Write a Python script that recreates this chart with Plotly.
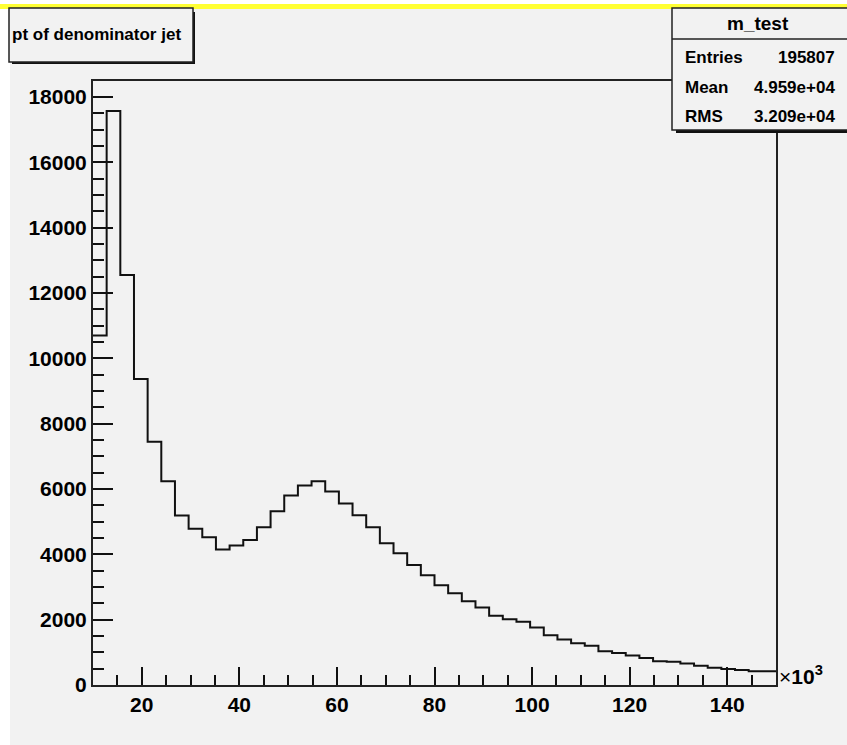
import numpy as np
import plotly.graph_objects as go

# ---- data (x in units of 10^3) ----
x_lo, x_hi, n_bins = 10.0, 150.0, 50
counts = [10700, 17570, 12550, 9370, 7450, 6240, 5190, 4780, 4520, 4150,
          4270, 4440, 4830, 5320, 5800, 6110, 6235, 5920, 5560, 5195,
          4830, 4340, 4030, 3670, 3360, 3050, 2806, 2560, 2370, 2122,
          2010, 1940, 1760, 1521, 1390, 1280, 1200, 1031, 980, 900,
          830, 730, 715, 660, 590, 530, 490, 459, 418, 418]
x_ticks = [20, 40, 60, 80, 100, 120, 140]
y_ticks = [0, 2000, 4000, 6000, 8000, 10000, 12000, 14000, 16000, 18000]
title_text = "pt of denominator jet"
stats_name = "m_test"
stats_rows = [("Entries", "195807"), ("Mean", "4.959e+04"), ("RMS", "3.209e+04")]
y_max = 18490

edges = np.linspace(x_lo, x_hi, n_bins + 1)
xs = list(edges)
ys = counts + [counts[-1]]

# ---- geometry ----
WIDTH, HEIGHT = 847, 745
L, R, T, B = 93, 776, 81, 685
W, H = R - L, B - T
def px(x):
    return (x - L) / W
def py(y):
    return (B - y) / H

BG = "#f2f2f2"
FONT = "Liberation Sans, Arial"

fig = go.Figure()
fig.add_trace(go.Scatter(x=xs, y=ys, mode="lines", line=dict(color="#111", width=2, shape="hv"),
                         hoverinfo="skip", showlegend=False, cliponaxis=True))

shapes = []
shapes.append(dict(type="rect", xref="paper", yref="paper", x0=px(10), x1=px(860), y0=py(9), y1=py(760),
                   fillcolor=BG, line=dict(width=0), layer="below"))
shapes.append(dict(type="rect", xref="paper", yref="paper", x0=px(-5), x1=px(860), y0=py(4), y1=py(9),
                   fillcolor="#ffff33", line=dict(width=0), layer="below"))
shapes.append(dict(type="rect", xref="paper", yref="paper", x0=px(12), x1=px(195), y0=py(12), y1=py(64),
                   fillcolor="#111", line=dict(width=0), layer="above"))
shapes.append(dict(type="rect", xref="paper", yref="paper", x0=px(9), x1=px(193), y0=py(8), y1=py(62),
                   fillcolor=BG, line=dict(color="#222", width=1.5), layer="above"))
shapes.append(dict(type="rect", xref="paper", yref="paper", x0=px(676), x1=px(860), y0=py(12), y1=py(133),
                   fillcolor="#111", line=dict(width=0), layer="above"))
shapes.append(dict(type="rect", xref="paper", yref="paper", x0=px(672), x1=px(860), y0=py(8), y1=py(130),
                   fillcolor=BG, line=dict(color="#222", width=1.5), layer="above"))
shapes.append(dict(type="line", xref="paper", yref="paper", x0=px(672), x1=px(860), y0=py(39), y1=py(39),
                   line=dict(color="#222", width=1.5), layer="above"))

annotations = []
annotations.append(dict(text="<b>" + title_text + "</b>", xref="paper", yref="paper", x=px(96), y=py(35),
                        xanchor="center", yanchor="middle", showarrow=False,
                        font=dict(family=FONT, size=17, color="black")))
annotations.append(dict(text="<b>" + stats_name + "</b>", xref="paper", yref="paper", x=px(758), y=py(23),
                        xanchor="center", yanchor="middle", showarrow=False,
                        font=dict(family=FONT, size=19, color="black")))
row_y = [58, 87, 116]
for (k, v), yy in zip(stats_rows, row_y):
    annotations.append(dict(text="<b>" + k + "</b>", xref="paper", yref="paper", x=px(683), y=py(yy),
                            xanchor="left", yanchor="middle", showarrow=False,
                            font=dict(family=FONT, size=17, color="black")))
    annotations.append(dict(text="<b>" + v + "</b>", xref="paper", yref="paper", x=px(837), y=py(yy),
                            xanchor="right", yanchor="middle", showarrow=False,
                            font=dict(family=FONT, size=17, color="black")))
annotations.append(dict(text="×<b>10<sup>3</sup></b>", xref="paper", yref="paper", x=px(777), y=py(675),
                        xanchor="left", yanchor="middle", showarrow=False,
                        font=dict(family=FONT, size=21, color="black")))

fig.update_layout(
    width=WIDTH, height=HEIGHT,
    margin=dict(l=L, r=WIDTH - R, t=T, b=HEIGHT - B, pad=0),
    paper_bgcolor="white", plot_bgcolor=BG,
    shapes=shapes, annotations=annotations, showlegend=False,
    xaxis=dict(range=[x_lo, x_hi], tickvals=x_ticks, ticktext=[str(v) for v in x_ticks],
               ticks="inside", ticklen=18, tickwidth=2, tickcolor="#111",
               minor=dict(dtick=5, tick0=0, ticks="inside", ticklen=10, tickwidth=2, tickcolor="#111"),
               showline=True, linecolor="#222", linewidth=2, mirror=True,
               showgrid=False, zeroline=False,
               tickfont=dict(family=FONT, size=21, color="black", weight="bold")),
    yaxis=dict(range=[0, y_max], tickvals=y_ticks, ticktext=[str(v) for v in y_ticks],
               ticks="inside", ticklen=20, tickwidth=2, tickcolor="#111",
               minor=dict(dtick=500, tick0=0, ticks="inside", ticklen=11, tickwidth=2, tickcolor="#111"),
               showline=True, linecolor="#222", linewidth=2, mirror=True,
               showgrid=False, zeroline=False,
               tickfont=dict(family=FONT, size=21, color="black", weight="bold")),
)

fig.write_html("out.html")
